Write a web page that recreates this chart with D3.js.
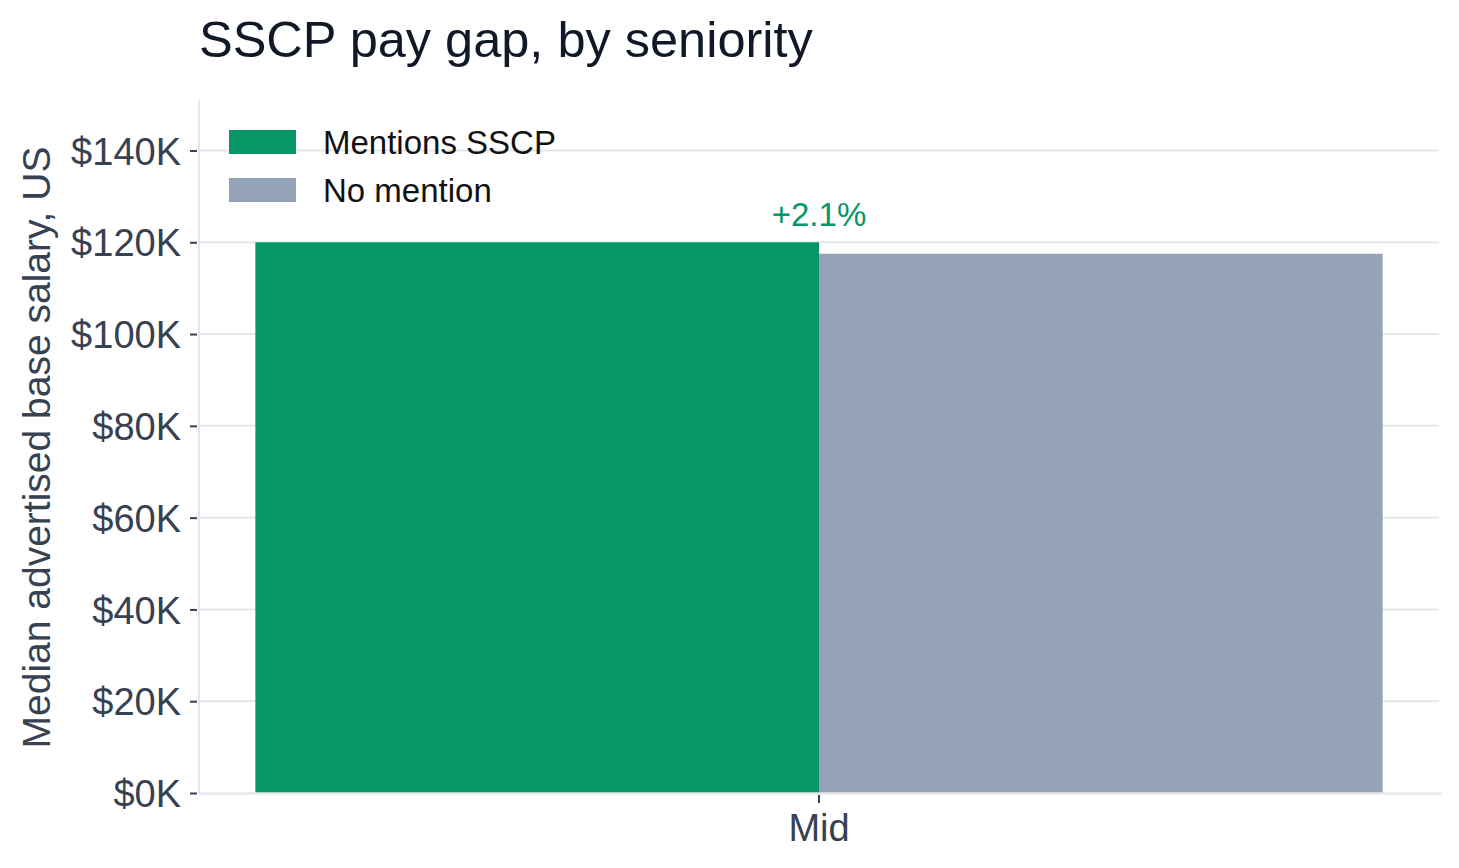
<!DOCTYPE html>
<html>
<head>
<meta charset="utf-8">
<script src="https://cdn.jsdelivr.net/npm/d3@7"></script>
<style>
  html, body { margin: 0; padding: 0; background: #ffffff; }
  svg { display: block; font-family: "Liberation Sans", Arial, Helvetica, sans-serif; }
</style>
</head>
<body>
<svg id="chart" width="1459" height="868"></svg>
<script>
// ---- data ----
const categories = ["Mid"];
const seriesNames = ["Mentions SSCP", "No mention"];
const mentionsValues = [120000];
const noMentionValues = [117500];
const gapLabels = ["+2.1%"];
const yTickValues = [0, 20000, 40000, 60000, 80000, 100000, 120000, 140000];
const titleText = "SSCP pay gap, by seniority";
const yAxisTitle = "Median advertised base salary, US";

// ---- layout ----
const margin = { top: 100, right: 20, bottom: 75, left: 199 };
const innerW = 1439 - margin.left;
const innerH = 793 - margin.top;
const colors = ["#069668", "#94a3b8"];

const svg = d3.select("#chart");
const g = svg.append("g").attr("transform", `translate(${margin.left},${margin.top})`);

const x0 = d3.scaleBand().domain(categories).range([0, innerW]).paddingInner(0).paddingOuter(0.05);
const x1 = d3.scaleBand().domain(seriesNames).range([0, x0.bandwidth()]).padding(0);
const y = d3.scaleLinear().domain([0, 151000]).range([innerH, 0]);

// gridlines
g.append("g").selectAll("line").data(yTickValues.filter(v => v > 0)).join("line")
  .attr("x1", 0).attr("x2", innerW)
  .attr("y1", d => y(d)).attr("y2", d => y(d))
  .attr("stroke", "#e5e7eb").attr("stroke-width", 2);

// bars
const rows = categories.map((c, i) => ({ cat: c, vals: [mentionsValues[i], noMentionValues[i]], gap: gapLabels[i] }));
const grp = g.append("g").selectAll("g").data(rows).join("g")
  .attr("transform", d => `translate(${x0(d.cat)},0)`);
grp.selectAll("rect").data(d => d.vals.map((v, j) => ({ name: seriesNames[j], v, j }))).join("rect")
  .attr("x", d => x1(d.name))
  .attr("width", x1.bandwidth())
  .attr("y", d => y(d.v))
  .attr("height", d => innerH - y(d.v))
  .attr("fill", d => colors[d.j]);

// gap annotation
grp.append("text")
  .attr("x", x0.bandwidth() / 2)
  .attr("y", d => y(d3.max(d.vals)) - 16)
  .attr("text-anchor", "middle")
  .attr("font-size", 33)
  .attr("fill", "#069668")
  .text(d => d.gap);

// left axis line
g.append("line").attr("x1", 0).attr("x2", 0).attr("y1", 0).attr("y2", innerH)
  .attr("stroke", "#e5e7eb").attr("stroke-width", 2);
// bottom axis line
g.append("line").attr("x1", 0).attr("x2", innerW + 2).attr("y1", innerH + 0.5).attr("y2", innerH + 0.5)
  .attr("stroke", "#e5e7eb").attr("stroke-width", 2.5);

// y axis
const yAxis = d3.axisLeft(y).tickValues(yTickValues)
  .tickFormat(d => "$" + d3.format("d")(d / 1000) + "K")
  .tickSize(7).tickPadding(9);
const yg = g.append("g").attr("transform", "translate(-2,0)").call(yAxis);
yg.select(".domain").remove();
yg.selectAll(".tick line").attr("stroke", "#374151").attr("stroke-width", 2);
yg.selectAll(".tick text").attr("font-size", 38).attr("fill", "#374151")
  .attr("font-family", "Liberation Sans, Arial, sans-serif").attr("dy", "0.36em");

// x axis
const xAxis = d3.axisBottom(x0).tickSize(8).tickPadding(11);
const xg = g.append("g").attr("transform", `translate(0,${innerH + 2})`).call(xAxis);
xg.select(".domain").remove();
xg.selectAll(".tick line").attr("stroke", "#374151").attr("stroke-width", 2);
xg.selectAll(".tick text").attr("font-size", 38).attr("fill", "#374151")
  .attr("font-family", "Liberation Sans, Arial, sans-serif");

// y axis title
svg.append("text")
  .attr("transform", `translate(50,${margin.top + innerH / 2 + 1}) rotate(-90)`)
  .attr("text-anchor", "middle")
  .attr("font-size", 39)
  .attr("fill", "#374151")
  .text(yAxisTitle);

// title
svg.append("text")
  .attr("x", 199).attr("y", 57)
  .attr("font-size", 50.5)
  .attr("fill", "#111827")
  .text(titleText);

// legend
const leg = svg.append("g").attr("transform", "translate(229,130)");
const li = leg.selectAll("g").data(seriesNames).join("g")
  .attr("transform", (d, i) => `translate(0,${i * 48})`);
li.append("rect").attr("width", 67).attr("height", 24).attr("fill", (d, i) => colors[i]);
li.append("text").attr("x", 94).attr("y", 12).attr("dy", "0.35em")
  .attr("font-size", 33).attr("fill", "#111111").text(d => d);
</script>
</body>
</html>
